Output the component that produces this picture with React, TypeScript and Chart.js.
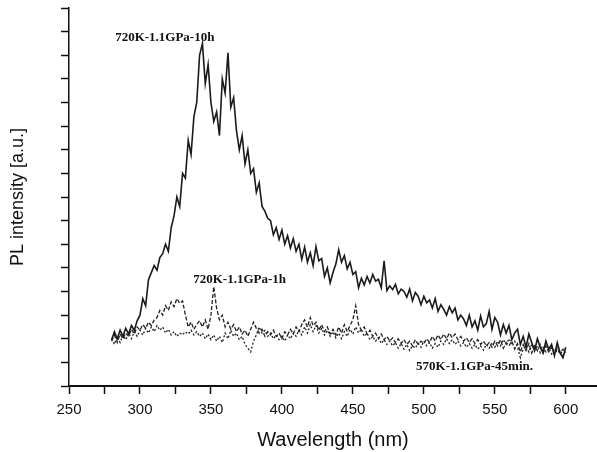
import React, { useEffect, useRef } from "react";
import { Chart, registerables } from "chart.js";

Chart.register(...registerables);

const wavelengths = [
  280, 282, 284, 286, 288, 290, 292, 294, 296, 298,
  300, 302, 304, 306, 308, 310, 312, 314, 316, 318,
  320, 322, 324, 326, 328, 330, 332, 334, 336, 338,
  340, 342, 344, 346, 348, 350, 352, 354, 356, 358,
  360, 362, 364, 366, 368, 370, 372, 374, 376, 378,
  380, 382, 384, 386, 388, 390, 392, 394, 396, 398,
  400, 402, 404, 406, 408, 410, 412, 414, 416, 418,
  420, 422, 424, 426, 428, 430, 432, 434, 436, 438,
  440, 442, 444, 446, 448, 450, 452, 454, 456, 458,
  460, 462, 464, 466, 468, 470, 472, 474, 476, 478,
  480, 482, 484, 486, 488, 490, 492, 494, 496, 498,
  500, 502, 504, 506, 508, 510, 512, 514, 516, 518,
  520, 522, 524, 526, 528, 530, 532, 534, 536, 538,
  540, 542, 544, 546, 548, 550, 552, 554, 556, 558,
  560, 562, 564, 566, 568, 570, 572, 574, 576, 578,
  580, 582, 584, 586, 588, 590, 592, 594, 596, 598,
  600,
];

const tenHour = [
  98, 115, 100, 118, 105, 122, 110, 128, 118, 138,
  150, 185, 170, 225, 240, 255, 245, 272, 280, 300,
  285, 335, 360, 400, 380, 450, 440, 520, 490, 570,
  600, 700, 725, 640, 680, 600, 560, 580, 530, 650,
  620, 705, 590, 610, 540, 500, 530, 470, 500, 450,
  460, 410, 430, 380, 370, 355, 350, 320, 335, 310,
  330, 300, 318, 292, 312, 285, 300, 268, 294, 262,
  282, 255, 295, 265, 270, 232, 250, 218, 240, 258,
  288, 262, 276, 248, 262, 236, 242, 208, 228, 214,
  232, 218, 236, 222, 226, 208, 265, 202, 212, 204,
  215, 195, 205, 200, 188, 205, 180, 198, 190, 172,
  190, 176, 182, 165, 185, 158, 172, 162, 150, 168,
  155, 165, 140, 150, 142, 128, 150, 125, 138, 118,
  148, 125, 132, 158, 120, 145, 135, 108, 130, 112,
  128, 98, 112, 120, 88, 105, 82, 110, 92, 75,
  100, 82, 70, 95, 78, 88, 64, 92, 70, 60,
  82,
];

const oneHour = [
  95, 108, 92, 110, 100, 112, 105, 120, 110, 125,
  118, 130, 122, 135, 128, 140, 145, 160, 150, 170,
  160, 178, 168, 185, 175, 180, 150, 125, 135, 120,
  130, 138, 125, 140, 120, 150, 210, 165, 140, 150,
  125, 135, 120, 130, 115, 125, 110, 118, 105, 120,
  135, 122, 112, 120, 105, 115, 108, 118, 105, 112,
  100, 115, 108, 120, 110, 125, 115, 130, 140, 125,
  145, 128, 135, 118, 130, 115, 125, 110, 120, 108,
  125, 112, 130, 115, 128, 140, 170, 130, 118, 125,
  110, 118, 105, 112, 100, 110, 98, 105, 95, 102,
  92, 100, 90, 98, 88, 95, 85, 98, 88, 95,
  90, 100, 92, 105, 95, 108, 98, 110, 100, 112,
  102, 110, 98, 105, 95, 102, 92, 100, 90, 98,
  88, 95, 85, 92, 82, 95, 85, 98, 80, 92,
  85, 95, 78, 90, 72, 88, 75, 90, 70, 85,
  75, 88, 70, 85, 72, 82, 68, 80, 70, 78,
  72,
];

const fortyFiveMin = [
  100, 88, 105, 92, 108, 98, 112, 100, 115, 105,
  118, 108, 122, 112, 125, 115, 128, 118, 125, 112,
  120, 108, 115, 105, 112, 108, 115, 110, 118, 108,
  115, 105, 112, 100, 110, 98, 108, 95, 105, 92,
  112, 100, 118, 105, 112, 98, 105, 88, 80, 72,
  95, 108, 125, 112, 118, 105, 112, 100, 108, 98,
  105, 95, 108, 100, 112, 105, 118, 108, 125, 112,
  130, 115, 128, 112, 122, 108, 118, 105, 115, 102,
  112, 100, 115, 105, 120, 110, 125, 112, 120, 105,
  112, 98, 105, 95, 102, 90, 98, 88, 95, 85,
  92, 80, 90, 78, 88, 75, 85, 80, 90, 82,
  95, 85, 92, 80, 90, 82, 95, 88, 100, 90,
  98, 88, 95, 85, 92, 82, 90, 80, 88, 78,
  85, 76, 88, 80, 92, 82, 95, 85, 98, 88,
  100, 90, 95, 82, 60, 78, 85, 72, 88, 75,
  85, 70, 82, 72, 80, 68, 78, 70, 75, 65,
  72,
];

const xTickValues = [250, 275, 300, 325, 350, 375, 400, 425, 450, 475, 500, 525, 550, 575, 600];

const seriesLabels = ["720K-1.1GPa-10h", "720K-1.1GPa-1h", "570K-1.1GPa-45min."];
const labelX = [282.5, 337.5, 494.5];
const labelY = [738, 226, 42];

const toPoints = (ys: number[]) => wavelengths.map((x, i) => ({ x, y: ys[i] }));

const labelPlugin = {
  id: "seriesLabels",
  afterDatasetsDraw(chart: any) {
    const { ctx, scales } = chart;
    ctx.save();
    ctx.fillStyle = "#111";
    ctx.font = "bold 13px 'Liberation Serif', 'DejaVu Serif', serif";
    ctx.textAlign = "left";
    ctx.textBaseline = "middle";
    seriesLabels.forEach((t, i) => {
      ctx.fillText(t, scales.x.getPixelForValue(labelX[i]), scales.y.getPixelForValue(labelY[i]));
    });
    ctx.restore();
  },
};

export default function App() {
  const ref = useRef<HTMLCanvasElement>(null);
  useEffect(() => {
    document.body.style.margin = "0";
    const canvas = ref.current!;
    const chart = new Chart(canvas, {
      type: "line",
      data: {
        datasets: [
          {
            label: seriesLabels[0],
            data: toPoints(tenHour),
            borderColor: "#1a1a1a",
            borderWidth: 1.6,
            pointRadius: 0,
            tension: 0,
          },
          {
            label: seriesLabels[1],
            data: toPoints(oneHour),
            borderColor: "#222",
            borderWidth: 1.3,
            borderDash: [4, 2],
            pointRadius: 0,
            tension: 0,
          },
          {
            label: seriesLabels[2],
            data: toPoints(fortyFiveMin),
            borderColor: "#222",
            borderWidth: 1.3,
            borderDash: [2, 2],
            pointRadius: 0,
            tension: 0,
          },
        ],
      },
      options: {
        animation: false,
        responsive: false,
        maintainAspectRatio: false,
        layout: { padding: { top: 8, left: 0, right: 0, bottom: 0 } },
        plugins: { legend: { display: false }, tooltip: { enabled: false } },
        scales: {
          x: {
            type: "linear",
            min: 250,
            max: 622,
            afterBuildTicks: (s: any) => {
              s.ticks = xTickValues.map((v) => ({ value: v }));
            },
            afterFit: (s: any) => {
              s.height = 66;
            },
            ticks: {
              autoSkip: false,
              maxRotation: 0,
              padding: 7,
              color: "#111",
              font: { family: "'Liberation Sans', Arial, sans-serif", size: 15 },
              callback: (v: any) => (Number(v) % 50 === 0 ? String(v) : ""),
            },
            grid: {
              display: true,
              drawOnChartArea: false,
              drawTicks: true,
              tickLength: 8,
              tickColor: "#111",
              tickWidth: 1.5,
            },
            border: { display: true, color: "#111", width: 2 },
            title: {
              display: true,
              text: "Wavelength (nm)",
              color: "#111",
              font: { family: "'Liberation Sans', Arial, sans-serif", size: 20 },
              padding: { top: 0, bottom: 0 },
            },
          },
          y: {
            type: "linear",
            min: 0,
            max: 800,
            afterFit: (s: any) => {
              s.width = 69;
            },
            ticks: { stepSize: 50, display: false },
            grid: {
              display: true,
              drawOnChartArea: false,
              drawTicks: true,
              tickLength: 8,
              tickColor: "#111",
              tickWidth: 1.5,
            },
            border: { display: true, color: "#111", width: 1.5 },
            title: {
              display: true,
              text: "PL intensity [a.u.]",
              color: "#111",
              font: { family: "'Liberation Sans', Arial, sans-serif", size: 18 },
              padding: { top: 7, bottom: 0 },
            },
          },
        },
      },
      plugins: [labelPlugin],
    });
    return () => chart.destroy();
  }, []);
  return (
    <div style={{ position: "absolute", left: 0, top: 0, width: 597, height: 452, background: "#fff" }}>
      <canvas ref={ref} width={597} height={452} />
    </div>
  );
}
